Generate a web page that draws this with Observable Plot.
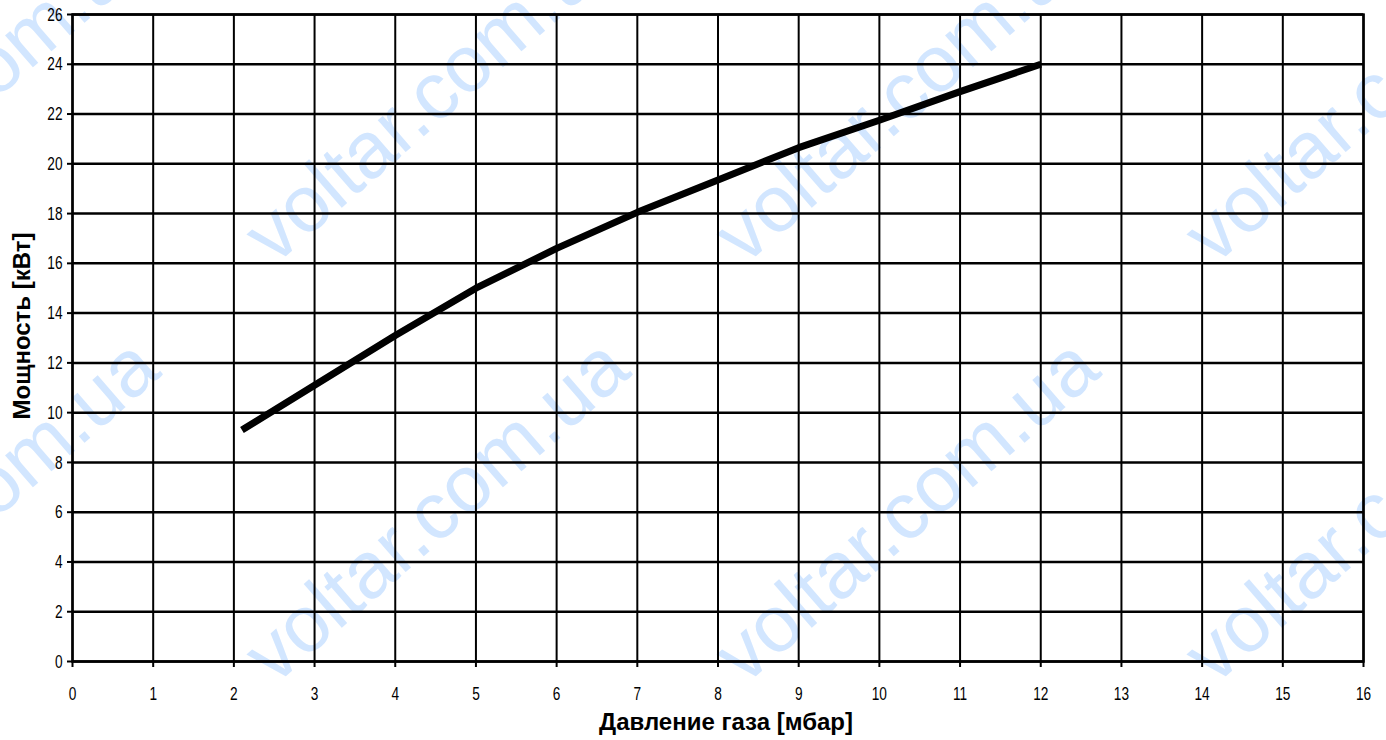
<!DOCTYPE html>
<html>
<head>
<meta charset="utf-8">
<script src="https://cdn.jsdelivr.net/npm/d3@7"></script>
<script src="https://cdn.jsdelivr.net/npm/@observablehq/plot@0.6"></script>
<style>
  html, body { margin: 0; padding: 0; background: #fff; }
  #wrap { position: relative; width: 1386px; height: 740px; overflow: hidden; }
  #wm { position: absolute; left: 0; top: 0; width: 1386px; height: 740px; z-index: 0; pointer-events: none; }
  #wm span { position: absolute; font: 80px "Liberation Sans", Arial, sans-serif; color: #d2e6ff;
             transform-origin: 0 0; transform: rotate(-41deg); white-space: nowrap; line-height: 1; }
  #chart { position: absolute; left: 0; top: 0; z-index: 1; }
  #chart svg { background: transparent !important; }
</style>
</head>
<body>
<div id="wrap"><div id="wm"></div><div id="chart"></div></div>
<script>
// Data
const pressure = [2.1, 3, 4, 5, 6, 7, 8, 9, 10, 11, 12];            // Давление газа [мбар]
const power    = [9.3, 11.1, 13.1, 15.0, 16.6, 18.05, 19.35, 20.65, 21.75, 22.9, 24.0]; // Мощность [кВт]
const xTicks = d3.range(0, 17, 1);
const yTicks = d3.range(0, 27, 2);
const xTitle = "Давление газа [мбар]";
const yTitle = "Мощность [кВт]";
const watermark = "voltar.com.ua";

const data = pressure.map((p, i) => ({p, w: power[i]}));

// watermark (decorative background)
const wm = document.getElementById("wm");
for (const bx of [-240, 230, 700, 1170]) {
  for (const by of [250, 670]) {
    const s = document.createElement("span");
    s.textContent = watermark;
    s.style.left = bx + "px";
    s.style.top = (by - 34) + "px";
    wm.appendChild(s);
  }
}

const tickFont = "'Liberation Sans', Arial, sans-serif";
const titleFont = "'Liberation Sans', Arial, sans-serif";

const chart = Plot.plot({
  width: 1386,
  height: 740,
  marginLeft: 72,
  marginRight: 23,
  marginTop: 14,
  marginBottom: 79,
  style: {background: "transparent", fontFamily: tickFont, color: "#000"},
  x: {domain: [0, 16], ticks: xTicks},
  y: {domain: [0, 26], ticks: yTicks},
  marks: [
    Plot.gridX(xTicks, {stroke: "#000", strokeOpacity: 1, strokeWidth: 2}),
    Plot.gridY(yTicks, {stroke: "#000", strokeOpacity: 1, strokeWidth: 2.5}),
    Plot.frame({stroke: "#000", strokeWidth: 2.5}),
    Plot.axisX({ticks: xTicks, tickSize: 6, tickPadding: 19, fontSize: 19, label: null, strokeWidth: 2}),
    Plot.axisY({ticks: yTicks, tickSize: 5, tickPadding: 5, fontSize: 19, label: null, strokeWidth: 2}),
    Plot.line(data, {x: "p", y: "w", stroke: "#000", strokeWidth: 7, strokeLinecap: "butt", strokeLinejoin: "round"}),
    Plot.text([xTitle], {text: d => d, frameAnchor: "bottom", dx: 8, dy: 68, fontSize: 24, fontWeight: "bold",
                         fontFamily: titleFont, fill: "#000"}),
    Plot.text([yTitle], {text: d => d, frameAnchor: "left", textAnchor: "middle", dx: -50, dy: -12, rotate: -90,
                         fontSize: 24, fontWeight: "bold", fontFamily: titleFont, fill: "#000"})
  ]
});

// condensed look for tick labels (reference uses a narrow face)
chart.querySelectorAll('g[aria-label="x-axis tick label"] text, g[aria-label="y-axis tick label"] text').forEach(t => {
  const tr = t.getAttribute("transform");
  if (tr) t.setAttribute("transform", tr + " scale(0.72,1)");
});

document.getElementById("chart").appendChild(chart);
</script>
</body>
</html>
